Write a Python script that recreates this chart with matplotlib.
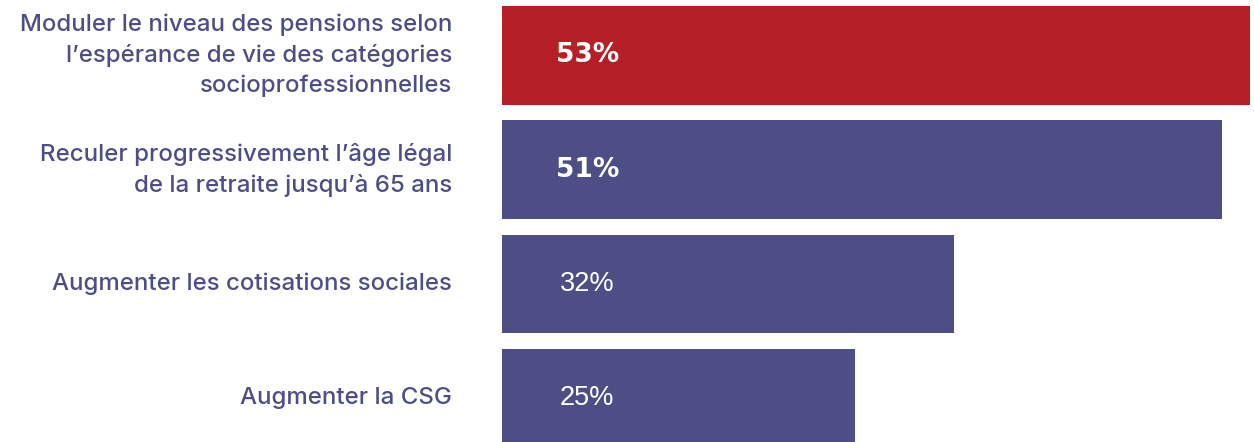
import matplotlib
matplotlib.use("Agg")
import matplotlib.pyplot as plt
from matplotlib.transforms import blended_transform_factory

categories = [
    "Moduler le niveau des pensions selon\nl\u2019esp\u00e9rance de vie des cat\u00e9gories\nsocioprofessionnelles",
    "Reculer progressivement l\u2019\u00e2ge l\u00e9gal\nde la retraite jusqu\u2019\u00e0 65 ans",
    "Augmenter les cotisations sociales",
    "Augmenter la CSG",
]
values = [53, 51, 32, 25]
value_labels = ["53%", "51%", "32%", "25%"]
bold_value = [True, True, False, False]

RED = "#B51F28"
PURPLE = "#4E4E87"
bar_colors = [RED, PURPLE, PURPLE, PURPLE]

W, H = 1254, 442
fig = plt.figure(figsize=(W / 100, H / 100), dpi=100)
ax = fig.add_axes([502 / W, 0, (1250 - 502) / W, 1])

ypos = list(range(len(values)))
ax.barh(ypos, values, height=0.862, color=bar_colors, edgecolor="none")
ax.set_xlim(0, 53)
ax.set_ylim(3.383, -0.484)
ax.axis("off")

trans = blended_transform_factory(ax.transAxes, ax.transData)
for i, (lab, v, vl, b) in enumerate(zip(categories, values, value_labels, bold_value)):
    ax.text(-50 / 748, i, lab, transform=trans, ha="right", va="center",
            multialignment="right", fontsize=17.3, color=PURPLE,
            family=["Inter", "DejaVu Sans"], fontweight=500, linespacing=1.45)
    if b:
        ax.text(3.8, i, vl, ha="left", va="center", fontsize=19, color="white",
                family=["DejaVu Sans"], fontweight="bold")
    else:
        ax.text(4.1, i, vl, ha="left", va="center", fontsize=19.5, color="white",
                family=["Liberation Sans", "DejaVu Sans"])

fig.savefig("out.png", dpi=100)
